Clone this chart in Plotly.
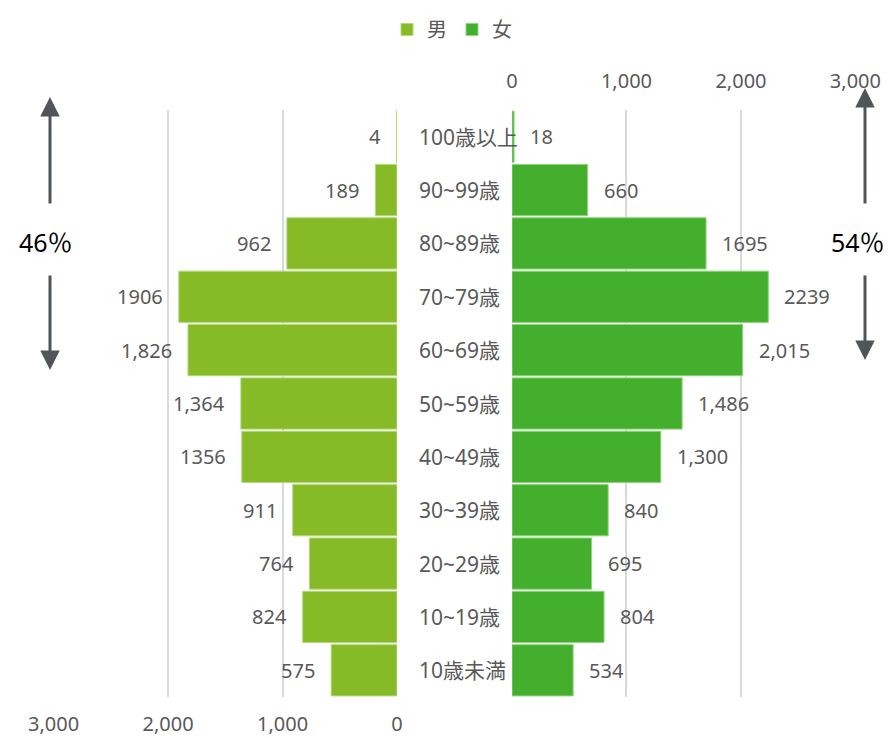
import plotly.graph_objects as go

categories = ["100歳以上", "90~99歳", "80~89歳", "70~79歳", "60~69歳", "50~59歳",
              "40~49歳", "30~39歳", "20~29歳", "10~19歳", "10歳未満"]
male = [4, 189, 962, 1906, 1826, 1364, 1356, 911, 764, 824, 575]
female = [18, 660, 1695, 2239, 2015, 1486, 1300, 840, 695, 804, 534]
male_labels = ["4", "189", "962", "1906", "1,826", "1,364", "1356", "911", "764", "824", "575"]
female_labels = ["18", "660", "1695", "2239", "2,015", "1,486", "1,300", "840", "695", "804", "534"]
tick_vals = [0, 1000, 2000, 3000]
male_share = "46％"
female_share = "54％"

W, H = 891, 738
FONT = "Noto Sans, Noto Sans CJK JP, sans-serif"
GRAY = "#595959"
MALE_C = "#86BB27"
FEMALE_C = "#43AF2C"

def px_x(p):
    return p / W

def px_y(p):
    return 1 - p / H

fig = go.Figure()
fig.add_trace(go.Bar(y=categories, x=male, orientation="h", name="男",
                     marker=dict(color=MALE_C, line=dict(color="#b3d97a", width=1)),
                     xaxis="x", yaxis="y"))
fig.add_trace(go.Bar(y=categories, x=female, orientation="h", name="女",
                     marker=dict(color=FEMALE_C, line=dict(color="#8fd47e", width=1)),
                     xaxis="x2", yaxis="y2"))

annotations = []
for c, v, t in zip(categories, male, male_labels):
    annotations.append(dict(x=v, y=c, xref="x", yref="y", text=t, showarrow=False,
                            xanchor="right", yanchor="middle", xshift=-14,
                            font=dict(size=20, color=GRAY, family=FONT)))
for c, v, t in zip(categories, female, female_labels):
    annotations.append(dict(x=v, y=c, xref="x2", yref="y2", text=t, showarrow=False,
                            xanchor="left", yanchor="middle", xshift=14,
                            font=dict(size=20, color=GRAY, family=FONT)))
for c in categories:
    annotations.append(dict(x=px_x(417), y=c, xref="paper", yref="y", text=c, showarrow=False,
                            xanchor="left", yanchor="middle",
                            font=dict(size=21, color=GRAY, family=FONT)))

ARROW = "#50555A"
for (xp, tip_up, tail_up, tail_dn, tip_dn) in [(50, 97, 205, 274, 370), (865, 88, 205, 274, 360)]:
    annotations.append(dict(x=px_x(xp), y=px_y(tip_up), xref="paper", yref="paper", text="",
                            showarrow=True, ax=0, ay=tail_up - tip_up, arrowhead=2,
                            arrowsize=1.3, arrowwidth=3, arrowcolor=ARROW))
    annotations.append(dict(x=px_x(xp), y=px_y(tip_dn), xref="paper", yref="paper", text="",
                            showarrow=True, ax=0, ay=tail_dn - tip_dn, arrowhead=2,
                            arrowsize=1.3, arrowwidth=3, arrowcolor=ARROW))
annotations.append(dict(x=px_x(46), y=px_y(242), xref="paper", yref="paper", text=male_share,
                        showarrow=False, xanchor="center", yanchor="middle",
                        font=dict(size=25, color="#000000", family=FONT)))
annotations.append(dict(x=px_x(858), y=px_y(242), xref="paper", yref="paper", text=female_share,
                        showarrow=False, xanchor="center", yanchor="middle",
                        font=dict(size=25, color="#000000", family=FONT)))

ydom = [px_y(697), px_y(110)]
fig.update_layout(
    width=W, height=H,
    margin=dict(l=0, r=0, t=0, b=0, autoexpand=False),
    plot_bgcolor="white", paper_bgcolor="white",
    bargap=0.04,
    showlegend=True,
    legend=dict(orientation="h", x=px_x(452), xanchor="center", y=px_y(10), yanchor="top",
                font=dict(size=20, color=GRAY, family=FONT), itemwidth=30,
                traceorder="normal"),
    xaxis=dict(domain=[px_x(53), px_x(397)], range=[3005, 0], anchor="y", side="bottom",
               tickvals=tick_vals, tickformat=",", showgrid=True, gridcolor="#D9D9D9",
               gridwidth=2, zeroline=False, showline=False, ticks="",
               ticklabelstandoff=13, automargin=False,
               tickfont=dict(size=20, color=GRAY, family=FONT)),
    xaxis2=dict(domain=[px_x(512), px_x(856)], range=[0, 3005], anchor="y2", side="top",
                tickvals=tick_vals, tickformat=",", showgrid=True, gridcolor="#D9D9D9",
                gridwidth=2, zeroline=False, showline=False, ticks="",
                ticklabelstandoff=17, automargin=False,
                tickfont=dict(size=20, color=GRAY, family=FONT)),
    yaxis=dict(domain=ydom, anchor="x", categoryorder="array", categoryarray=categories,
               autorange="reversed", showticklabels=False, showgrid=False, zeroline=False,
               automargin=False),
    yaxis2=dict(domain=ydom, anchor="x2", categoryorder="array", categoryarray=categories,
                autorange="reversed", showticklabels=False, showgrid=False, zeroline=False,
                matches="y", automargin=False),
    annotations=annotations,
)

fig.write_html("out.html")
